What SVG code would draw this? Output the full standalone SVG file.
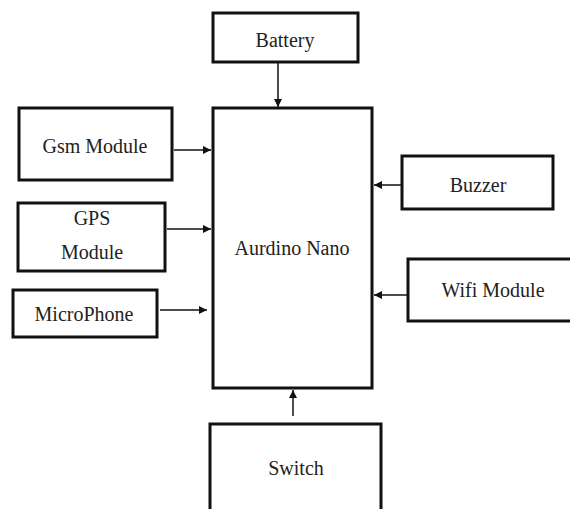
<svg xmlns="http://www.w3.org/2000/svg" width="570" height="509" viewBox="0 0 570 509">
<style>
.box{fill:#fff;stroke:#111;stroke-width:3}
.lbl{font-family:"Liberation Serif","Times New Roman",serif;font-size:20px;fill:#222;text-anchor:middle}
.con{stroke:#111;stroke-width:1.5;fill:none;marker-end:url(#ah)}
</style>
<defs>
<marker id="ah" viewBox="0 0 10 10" refX="10" refY="5" markerWidth="8" markerHeight="8" markerUnits="userSpaceOnUse" orient="auto">
<path d="M0,0 L10,5 L0,10 Z" fill="#111"/>
</marker>
</defs>
<rect width="570" height="509" fill="#fff"/>
<g id="connectors">
<line class="con" x1="278" y1="62" x2="278" y2="107"/>
<line class="con" x1="174" y1="150" x2="211" y2="150"/>
<line class="con" x1="167" y1="229" x2="211" y2="229"/>
<line class="con" x1="160" y1="310" x2="207" y2="310"/>
<line class="con" x1="401" y1="185" x2="374" y2="185"/>
<line class="con" x1="407" y1="295" x2="374" y2="295"/>
<line class="con" x1="293" y1="416" x2="293" y2="390"/>
</g>
<g id="battery"><rect class="box" x="213" y="13" width="145" height="49"/><text class="lbl" x="285" y="47">Battery</text></g>
<g id="nano"><rect class="box" x="213" y="108" width="159" height="280"/><text class="lbl" x="292" y="255">Aurdino Nano</text></g>
<g id="gsm"><rect class="box" x="19" y="108" width="153" height="72"/><text class="lbl" x="95" y="153">Gsm Module</text></g>
<g id="gps"><rect class="box" x="18" y="203" width="147" height="68"/><text class="lbl" x="92" y="225">GPS</text><text class="lbl" x="92" y="259">Module</text></g>
<g id="microphone"><rect class="box" x="13" y="290" width="144" height="47"/><text class="lbl" x="84" y="321">MicroPhone</text></g>
<g id="buzzer"><rect class="box" x="402" y="156" width="151" height="53"/><text class="lbl" x="478" y="192">Buzzer</text></g>
<g id="wifi"><rect class="box" x="408" y="259" width="164" height="62"/><text class="lbl" x="493" y="297">Wifi Module</text></g>
<g id="switch"><rect class="box" x="210" y="424" width="171" height="90"/><text class="lbl" x="296" y="475">Switch</text></g>
</svg>
